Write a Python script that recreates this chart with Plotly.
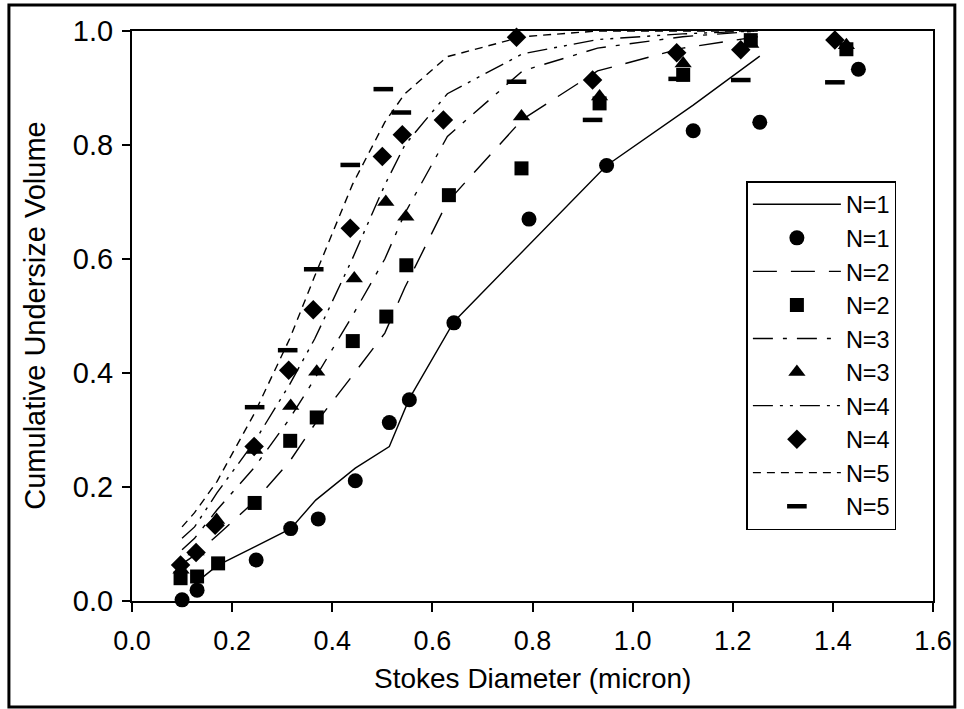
import plotly.graph_objects as go

# ---- data ----
n1_pts_x = [0.100, 0.130, 0.248, 0.317, 0.372, 0.446, 0.514, 0.554, 0.643, 0.793, 0.948, 1.121, 1.254, 1.451]
n1_pts_y = [0.002, 0.019, 0.072, 0.127, 0.144, 0.211, 0.313, 0.353, 0.488, 0.670, 0.764, 0.825, 0.840, 0.933]

n2_pts_x = [0.097, 0.130, 0.172, 0.245, 0.316, 0.369, 0.441, 0.508, 0.548, 0.633, 0.778, 0.934, 1.101, 1.236, 1.427]
n2_pts_y = [0.040, 0.043, 0.066, 0.172, 0.281, 0.322, 0.456, 0.499, 0.589, 0.712, 0.759, 0.873, 0.923, 0.984, 0.968]

n3_pts_x = [0.098, 0.128, 0.169, 0.245, 0.317, 0.369, 0.444, 0.507, 0.547, 0.778, 0.934, 1.101, 1.236, 1.427]
n3_pts_y = [0.055, 0.087, 0.142, 0.265, 0.342, 0.402, 0.566, 0.700, 0.674, 0.850, 0.885, 0.943, 0.977, 0.975]

n4_pts_x = [0.097, 0.128, 0.166, 0.244, 0.313, 0.362, 0.436, 0.500, 0.540, 0.622, 0.768, 0.920, 1.088, 1.216, 1.404]
n4_pts_y = [0.063, 0.085, 0.133, 0.271, 0.405, 0.511, 0.654, 0.780, 0.818, 0.844, 0.989, 0.914, 0.962, 0.967, 0.984]

n5_pts_x = [0.245, 0.311, 0.363, 0.436, 0.502, 0.538, 0.768, 0.920, 1.091, 1.216, 1.404]
n5_pts_y = [0.340, 0.440, 0.582, 0.765, 0.898, 0.857, 0.911, 0.844, 0.916, 0.914, 0.910]

n1_line_x = [0.125, 0.170, 0.245, 0.317, 0.367, 0.446, 0.514, 0.554, 0.643, 0.793, 0.948, 1.121, 1.254]
n1_line_y = [0.030, 0.062, 0.095, 0.127, 0.177, 0.233, 0.271, 0.355, 0.490, 0.625, 0.764, 0.870, 0.956]

model_x = [0.10, 0.125, 0.17, 0.245, 0.315, 0.365, 0.44, 0.505, 0.545, 0.63, 0.78, 0.93, 1.10, 1.25]
n2_line_y = [0.065, 0.080, 0.115, 0.175, 0.245, 0.310, 0.395, 0.470, 0.550, 0.700, 0.845, 0.930, 0.970, 0.990]
n3_line_y = [0.090, 0.110, 0.160, 0.235, 0.320, 0.390, 0.500, 0.600, 0.680, 0.815, 0.930, 0.970, 0.990, 1.000]
n4_line_y = [0.110, 0.130, 0.190, 0.280, 0.380, 0.460, 0.600, 0.730, 0.800, 0.890, 0.960, 0.985, 0.995, 1.000]
n5_line_y = [0.130, 0.155, 0.210, 0.330, 0.460, 0.570, 0.730, 0.840, 0.890, 0.955, 0.990, 1.000, 1.000, 1.000]

x_ticks = [0.0, 0.2, 0.4, 0.6, 0.8, 1.0, 1.2, 1.4, 1.6]
y_ticks = [0.0, 0.2, 0.4, 0.6, 0.8, 1.0]

FONT = "Liberation Sans, Arial, sans-serif"

fig = go.Figure()

def line(x, y, name, dash, g):
    fig.add_trace(go.Scatter(x=x, y=y, mode="lines", name=name, legendgroup=g,
                             line=dict(color="black", width=1.4, dash=dash)))

def pts(x, y, name, symbol, g, size=14, lw=0):
    fig.add_trace(go.Scatter(x=x, y=y, mode="markers", name=name, legendgroup=g,
                             cliponaxis=False,
                             marker=dict(symbol=symbol, size=size, color="black",
                                         line=dict(color="black", width=lw))))

line(n1_line_x, n1_line_y, "N=1", "solid", "a")
pts(n1_pts_x, n1_pts_y, "N=1", "circle", "b", 15)
line(model_x, n2_line_y, "N=2", "24px,14px", "c")
pts(n2_pts_x, n2_pts_y, "N=2", "square", "d", 14)
line(model_x, n3_line_y, "N=3", "20px,10px,4px,10px", "e")
pts(n3_pts_x, n3_pts_y, "N=3", "triangle-up", "f", 15)
line(model_x, n4_line_y, "N=4", "20px,7px,3px,7px,3px,7px", "g")
pts(n4_pts_x, n4_pts_y, "N=4", "diamond", "h", 15)
line(model_x, n5_line_y, "N=5", "8px,6px", "i")
pts(n5_pts_x, n5_pts_y, "N=5", "line-ew", "j", 14, 4.5)

L, R, T, B = 132, 25, 31, 108
W, H = 964, 709
pw, ph = W - L - R, H - T - B

fig.update_layout(
    width=W, height=H,
    margin=dict(l=L, r=R, t=T, b=B, pad=0),
    paper_bgcolor="white", plot_bgcolor="white",
    font=dict(family=FONT, color="black", size=24),
    showlegend=True,
    legend=dict(x=(751 - L) / pw, y=(H - B - 181) / ph, xanchor="left", yanchor="top",
                bordercolor="black", borderwidth=1.5, bgcolor="white",
                font=dict(family=FONT, size=23.5, color="black"),
                itemwidth=88, tracegroupgap=0, traceorder="normal"),
    xaxis=dict(range=[0, 1.6], tickvals=x_ticks, ticktext=[f"{v:.1f}" for v in x_ticks],
               showgrid=False, zeroline=False, showline=True, linecolor="black", linewidth=2,
               mirror=True, ticks="outside", ticklen=9, tickwidth=1.5, tickcolor="black",
               tickfont=dict(family=FONT, size=27), ticklabelstandoff=6),
    yaxis=dict(range=[0, 1.0], tickvals=y_ticks, ticktext=[f"{v:.1f}" for v in y_ticks],
               showgrid=False, zeroline=False, showline=True, linecolor="black", linewidth=2,
               mirror=True, ticks="outside", ticklen=8, tickwidth=1.5, tickcolor="black",
               tickfont=dict(family=FONT, size=29), ticklabelstandoff=3),
    annotations=[
        dict(text="Stokes Diameter (micron)", xref="paper", yref="paper",
             x=0.5, y=(H - B - 678) / ph, xanchor="center", yanchor="middle",
             showarrow=False, font=dict(family=FONT, size=28)),
        dict(text="Cumulative Undersize Volume", xref="paper", yref="paper",
             x=(34 - L) / pw, y=0.5, xanchor="center", yanchor="middle", textangle=-90,
             showarrow=False, font=dict(family=FONT, size=29)),
    ],
    shapes=[dict(type="rect", xref="paper", yref="paper",
                 x0=(8 - L) / pw, x1=(961 - L) / pw,
                 y0=(H - B - 707) / ph, y1=(H - B - 5) / ph,
                 line=dict(color="black", width=3), fillcolor="rgba(0,0,0,0)", layer="above")],
)

fig.write_html("out.html")
